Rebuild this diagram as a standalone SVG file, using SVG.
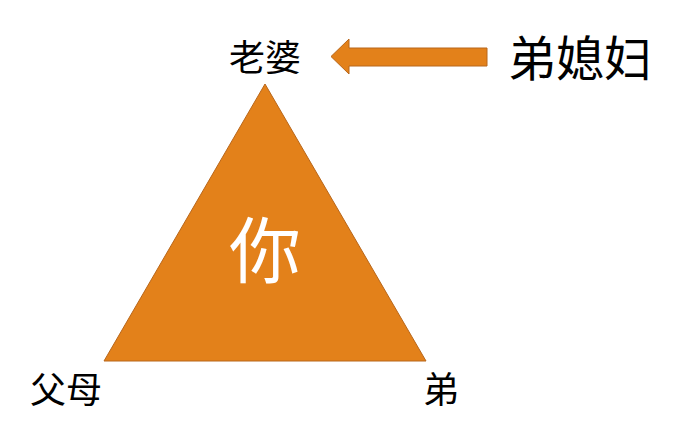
<svg xmlns="http://www.w3.org/2000/svg" width="683" height="439" viewBox="0 0 683 439">
<style>
.t{font-family:"Noto Sans CJK SC","Noto Sans CJK JP",sans-serif;fill:#000;}
.shape{fill:#E3811A;stroke:#B8661A;stroke-width:1;}
</style>
<rect width="683" height="439" fill="#fff"/>
<g id="you">
<polygon class="shape" points="265,84 104,361 426,361"/>
<text x="265" y="277" text-anchor="middle" font-size="72" class="t" style="fill:#fff">你</text>
</g>
<g id="wife"><text x="265" y="71" text-anchor="middle" font-size="36" class="t">老婆</text></g>
<g id="sil"><text x="580" y="76" text-anchor="middle" font-size="48" class="t">弟媳妇</text></g>
<g id="parents"><text x="66" y="403" text-anchor="middle" font-size="36" class="t">父母</text></g>
<g id="brother"><text x="441" y="403" text-anchor="middle" font-size="36" class="t">弟</text></g>
<g id="connectors">
<polygon class="shape" points="487,48 349,48 349,39 331,56.5 349,74 349,66 487,66"/>
</g>
</svg>
